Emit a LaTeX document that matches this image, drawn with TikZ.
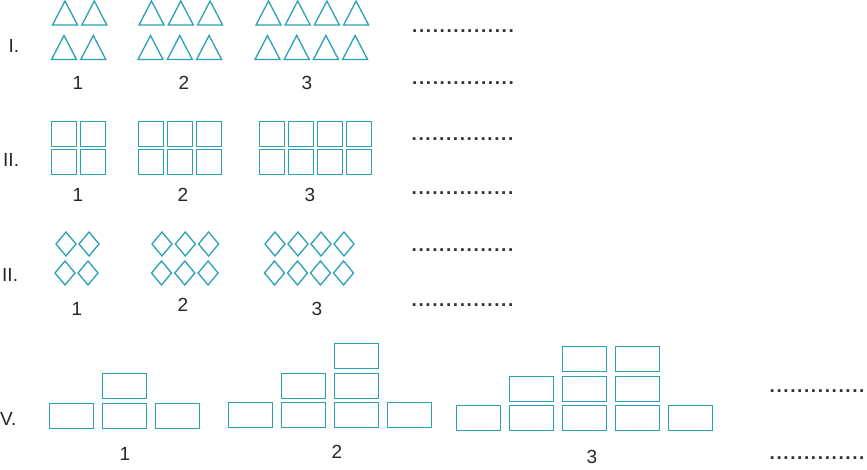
\documentclass[tikz,border=0pt]{standalone}
\usepackage{fontspec}
\setmainfont{Liberation Sans}
\definecolor{tealc}{HTML}{2AA2B4}
\newcommand\dk{\kern1.6pt}
\newcommand\mydotline{.\dk.\dk.\dk.\dk.\dk.\dk.\dk.\dk.\dk.\dk.\dk.\dk.\dk.\dk.}
\newcommand\mydotshort{.\dk.\dk.\dk.\dk.\dk.\dk.\dk.\dk.\dk.\dk.\dk.\dk.\dk.}
\begin{document}
\begin{tikzpicture}[x=1pt,y=-1pt,
  shp/.style={draw=tealc,line width=1.3pt,line join=miter},
  lbl/.style={font=\fontsize{19}{22}\selectfont,text=black!85,inner sep=0pt,anchor=base},
  rlbl/.style={font=\fontsize{19}{22}\selectfont,text=black!85,inner sep=0pt,anchor=base west},
  dotsl/.style={font=\fontsize{19}{22}\selectfont\bfseries,text=black!80,inner sep=0pt,anchor=base west},
  tri/.pic={\draw[shp] (0,24) -- (12.5,0) -- (25,24) -- cycle;},
  sq/.pic={\draw[shp] (0,0) rectangle (25,25);},
  dia/.pic={\draw[shp] (0,12) -- (10,0) -- (20,12) -- (10,24) -- cycle;},
  brick/.pic={\draw[shp] (0,0) rectangle (44,25);}]
\useasboundingbox (0,0) rectangle (867,470);

% Row I: triangles
\foreach \i in {0,1} {
  \pic at (52.5+29.3*\i,1) {tri};
  \pic at (51.5+29.3*\i,35.5) {tri};}
\foreach \i in {0,1,2} {
  \pic at (139+29.3*\i,1) {tri};
  \pic at (138+29.3*\i,35.5) {tri};}
\foreach \i in {0,...,3} {
  \pic at (256+29.2*\i,1) {tri};
  \pic at (255+29.2*\i,35.5) {tri};}

% Row II: squares
\foreach \i in {0,1} {
  \pic at (51.5+29*\i,121.5) {sq};
  \pic at (51.5+29*\i,149.5) {sq};}
\foreach \i in {0,1,2} {
  \pic at (138.5+29*\i,121.5) {sq};
  \pic at (138.5+29*\i,149.5) {sq};}
\foreach \i in {0,...,3} {
  \pic at (259.5+29*\i,121.5) {sq};
  \pic at (259.5+29*\i,149.5) {sq};}

% Row III: diamonds
\foreach \i in {0,1} {
  \pic at (56+23*\i,232) {dia};
  \pic at (55+23*\i,261) {dia};}
\foreach \i in {0,1,2} {
  \pic at (152+23.3*\i,232) {dia};
  \pic at (151.5+23.3*\i,261) {dia};}
\foreach \i in {0,...,3} {
  \pic at (265+23*\i,232) {dia};
  \pic at (264.5+23*\i,261) {dia};}

% Row IV: bricks
\foreach \x in {49.5,102.5,155.5} {\pic at (\x,403.5) {brick};}
\pic at (102.5,373.5) {brick};
\foreach \x in {228.5,281.5,334.5,387.5} {\pic at (\x,402.5) {brick};}
\foreach \x in {281.5,334.5} {\pic at (\x,373.5) {brick};}
\pic at (334.5,343.5) {brick};
\foreach \x in {456.5,509.5,562.5,615.5,668.5} {\pic at (\x,405.5) {brick};}
\foreach \x in {509.5,562.5,615.5} {\pic at (\x,376.5) {brick};}
\foreach \x in {562.5,615.5} {\pic at (\x,346.5) {brick};}

% Row labels
\node[rlbl] (r1) at (8.5,53) {I.};
\node[rlbl] (r2) at (3,167) {II.};
\node[rlbl] (r3) at (2,281) {II.};
\node[rlbl] (r4) at (0,425) {V.};

% Numbers
\node[lbl] (n11) at (78,90) {1};
\node[lbl] (n12) at (184,90) {2};
\node[lbl] (n13) at (307,90) {3};
\node[lbl] (n21) at (78,202) {1};
\node[lbl] (n22) at (183,202) {2};
\node[lbl] (n23) at (310,202) {3};
\node[lbl] (n31) at (77,315) {1};
\node[lbl] (n32) at (183,312) {2};
\node[lbl] (n33) at (317,315) {3};
\node[lbl] (n41) at (125,460) {1};
\node[lbl] (n42) at (337,458) {2};
\node[lbl] (n43) at (592,463) {3};

% Dotted answer lines
\node[dotsl] (d1a) at (412,33) {\mydotline};
\node[dotsl] (d1b) at (412,85) {\mydotline};
\node[dotsl] (d2a) at (411.5,141) {\mydotline};
\node[dotsl] (d2b) at (411.5,195) {\mydotline};
\node[dotsl] (d3a) at (411.5,252) {\mydotline};
\node[dotsl] (d3b) at (411.5,306) {\mydotline};
\node[dotsl] (d4a) at (769.5,392) {\mydotshort};
\node[dotsl] (d4b) at (769.5,459) {\mydotshort};
\end{tikzpicture}
\end{document}
